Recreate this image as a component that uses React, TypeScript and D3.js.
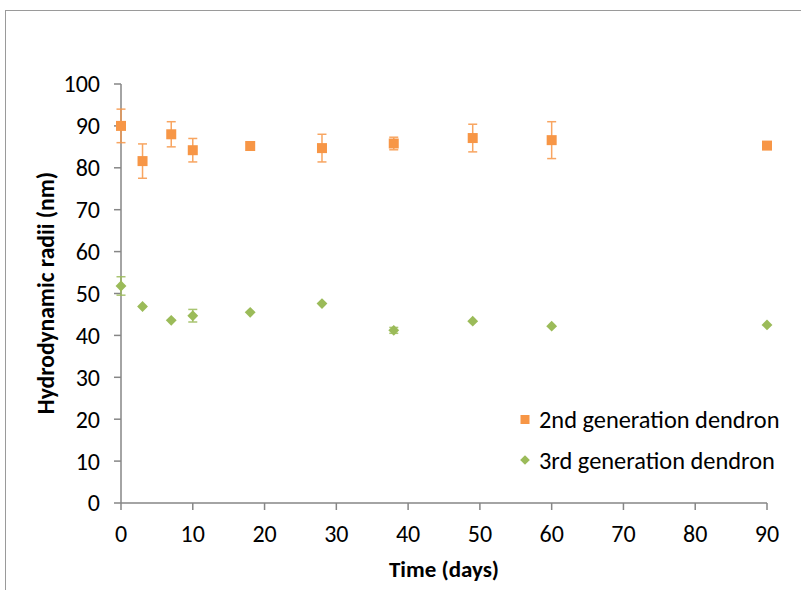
import React from "react";
import * as d3 from "d3";

const days = [0, 3, 7, 10, 18, 28, 38, 49, 60, 90];
const gen2 = [90.0, 81.6, 88.0, 84.2, 85.2, 84.7, 85.8, 87.1, 86.6, 85.3];
const gen2Err = [4.0, 4.1, 3.0, 2.8, 0, 3.3, 1.5, 3.3, 4.4, 0];
const gen3 = [51.8, 46.9, 43.6, 44.7, 45.5, 47.6, 41.2, 43.4, 42.2, 42.5];
const gen3Err = [2.2, 0, 0, 1.5, 0, 0, 0.7, 0, 0, 0];
const seriesNames = ["2nd generation dendron", "3rd generation dendron"];
const xTicks = [0, 10, 20, 30, 40, 50, 60, 70, 80, 90];
const yTicks = [0, 10, 20, 30, 40, 50, 60, 70, 80, 90, 100];

const ORANGE = "#F79646";
const GREEN = "#9BBB59";
const AXIS = "#868686";
const FONT = "Carlito, 'Open Sans', sans-serif";

export default function App() {
  const x = d3.scaleLinear().domain([0, 90]).range([121, 767]);
  const y = d3.scaleLinear().domain([0, 100]).range([503, 84]);
  const diamond = d3.symbol().type(d3.symbolDiamond2).size(75)();

  const errBars = (vals: number[], errs: number[], color: string, cap: number) =>
    days.map((d, i) => {
      if (!errs[i]) return null;
      const cx = x(d);
      const y1 = y(vals[i] + errs[i]);
      const y2 = y(vals[i] - errs[i]);
      return (
        <g key={i} stroke={color} strokeWidth={1.5} opacity={0.85}>
          <line x1={cx} x2={cx} y1={y1} y2={y2} />
          <line x1={cx - cap} x2={cx + cap} y1={y1} y2={y1} />
          <line x1={cx - cap} x2={cx + cap} y1={y2} y2={y2} />
        </g>
      );
    });

  return (
    <svg width={801} height={590} style={{ position: "absolute", left: 0, top: 0, background: "#fff" }}>
      <rect x={5.5} y={10.5} width={820} height={620} fill="none" stroke="#9a9a9a" strokeWidth={1} />
      {/* axes */}
      <line x1={121} x2={121} y1={y(100)} y2={y(0)} stroke={AXIS} strokeWidth={1.5} />
      <line x1={121} x2={767} y1={y(0)} y2={y(0)} stroke={AXIS} strokeWidth={1.5} />
      {yTicks.map((t) => (
        <g key={"y" + t}>
          <line x1={114} x2={121} y1={y(t)} y2={y(t)} stroke={AXIS} strokeWidth={1.5} />
          <text x={100} y={y(t)} dy="0.35em" textAnchor="end" fontSize={24} fontFamily={FONT} fill="#000">
            {t}
          </text>
        </g>
      ))}
      {xTicks.map((t) => (
        <g key={"x" + t}>
          <line x1={x(t)} x2={x(t)} y1={y(0)} y2={y(0) + 7} stroke={AXIS} strokeWidth={1.5} />
          <text x={x(t)} y={542} textAnchor="middle" fontSize={24} fontFamily={FONT} fill="#000">
            {t}
          </text>
        </g>
      ))}
      <text x={444} y={577} textAnchor="middle" fontSize={23} fontWeight="bold" fontFamily={FONT}>
        Time (days)
      </text>
      <text
        transform={`translate(54, 293) rotate(-90)`}
        textAnchor="middle"
        fontSize={23.5}
        fontWeight="bold"
        fontFamily={FONT}
      >
        Hydrodynamic radii (nm)
      </text>
      {/* error bars */}
      {errBars(gen2, gen2Err, ORANGE, 4.5)}
      {errBars(gen3, gen3Err, GREEN, 4.5)}
      {/* markers */}
      {days.map((d, i) => (
        <rect key={"s" + i} x={x(d) - 5} y={y(gen2[i]) - 5} width={10} height={10} fill={ORANGE} />
      ))}
      {days.map((d, i) => (
        <path key={"d" + i} d={diamond} transform={`translate(${x(d)},${y(gen3[i])})`} fill={GREEN} />
      ))}
      {/* legend */}
      <rect x={520.5} y={415} width={9} height={9} fill={ORANGE} />
      <text x={539} y={428} fontSize={24.4} fontFamily={FONT} fill="#000">
        {seriesNames[0]}
      </text>
      <path d={d3.symbol().type(d3.symbolDiamond2).size(60)()} transform="translate(525,460)" fill={GREEN} />
      <text x={539} y={469} fontSize={24.4} fontFamily={FONT} fill="#000">
        {seriesNames[1]}
      </text>
    </svg>
  );
}
